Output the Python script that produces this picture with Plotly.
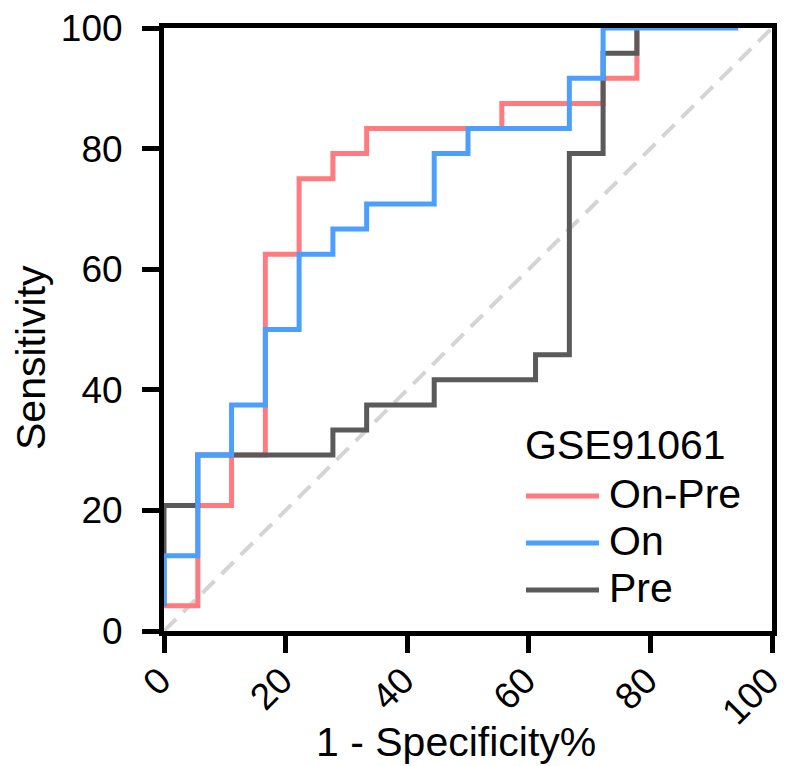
import plotly.graph_objects as go

# ROC operating points (1 - specificity %, sensitivity %), drawn as steps
onpre_fpr = [0, 5.56, 11.11, 16.67, 22.22, 27.78, 33.33, 55.56, 72.22, 77.78]
onpre_sens = [4.17, 20.83, 29.17, 62.5, 75.0, 79.17, 83.33, 87.5, 91.67, 100]

on_fpr = [0, 0, 5.56, 11.11, 16.67, 22.22, 27.78, 33.33, 44.44, 50.0, 66.67, 72.22, 94.44]
on_sens = [4.17, 12.5, 29.17, 37.5, 50.0, 62.5, 66.67, 70.83, 79.17, 83.33, 91.67, 100, 100]

pre_fpr = [0, 0, 5.56, 27.78, 33.33, 44.44, 61.11, 66.67, 72.22, 77.78]
pre_sens = [4.17, 20.83, 29.17, 33.33, 37.5, 41.67, 45.83, 79.17, 95.83, 100]

# chance line
ref_x = [0, 100]
ref_y = [0, 100]

series_names = ["On-Pre", "On", "Pre"]
series_colors = ["#FF7B7F", "#4D9FFF", "#5A5A5A"]
legend_title = "GSE91061"

tick_vals = [0, 20, 40, 60, 80, 100]
tick_text = ["0", "20", "40", "60", "80", "100"]

FONT = "Liberation Sans, Arial, sans-serif"
W, H = 786, 766
ML, MR, MT, MB = 164, 14, 28, 135
PW, PH = W - ML - MR, H - MT - MB


def px_x(p):
    return (p - ML) / PW


def px_y(p):
    return (H - MB - p) / PH


fig = go.Figure()
fig.add_trace(go.Scatter(x=ref_x, y=ref_y, mode="lines",
                         line=dict(color="#D4D4D4", width=4, dash="17px,10px"),
                         showlegend=False, hoverinfo="skip"))

curves = [(onpre_fpr, onpre_sens, 0), (pre_fpr, pre_sens, 2), (on_fpr, on_sens, 1)]
for xs, ys, i in curves:
    fig.add_trace(go.Scatter(x=xs, y=ys, mode="lines", name=series_names[i],
                             line=dict(color=series_colors[i], width=5, shape="hv"),
                             showlegend=False))

axis_common = dict(
    range=[0, 100], tickvals=tick_vals, ticktext=tick_text,
    showline=True, linewidth=5, linecolor="black", mirror=True,
    ticks="outside", ticklen=17, tickwidth=5, tickcolor="black",
    showgrid=False, zeroline=False, layer="below traces",
    ticklabeloverflow="allow", automargin=False,
    tickfont=dict(family=FONT, size=37, color="black"),
)

fig.update_layout(
    width=W, height=H,
    margin=dict(l=ML, r=MR, t=MT, b=MB, autoexpand=False),
    plot_bgcolor="white", paper_bgcolor="white",
    xaxis=dict(**axis_common, tickangle=-45, ticklabelstandoff=-9, ticklabelshift=-4),
    yaxis=dict(**axis_common, ticklabelstandoff=12),
    showlegend=False,
)

annotations = [
    dict(text="1 - Specificity%", xref="paper", yref="paper",
         x=px_x(456), y=px_y(742), xanchor="center", yanchor="middle",
         showarrow=False, font=dict(family=FONT, size=41, color="black")),
    dict(text="Sensitivity", xref="paper", yref="paper",
         x=px_x(31), y=px_y(358), xanchor="center", yanchor="middle",
         textangle=-90, showarrow=False,
         font=dict(family=FONT, size=41, color="black")),
    dict(text=legend_title, xref="paper", yref="paper",
         x=px_x(523), y=px_y(445), xanchor="left", yanchor="middle",
         showarrow=False, font=dict(family=FONT, size=41, color="black")),
]

shapes = []
legend_rows = [496, 543, 590]
for i, row in enumerate(legend_rows):
    shapes.append(dict(type="line", xref="paper", yref="paper",
                       x0=px_x(526), x1=px_x(599), y0=px_y(row), y1=px_y(row),
                       line=dict(color=series_colors[i], width=5)))
    annotations.append(dict(text=series_names[i], xref="paper", yref="paper",
                            x=px_x(607), y=px_y(row - 2), xanchor="left", yanchor="middle",
                            showarrow=False,
                            font=dict(family=FONT, size=41, color="black")))

fig.update_layout(annotations=annotations, shapes=shapes)

fig.write_html("out.html")
